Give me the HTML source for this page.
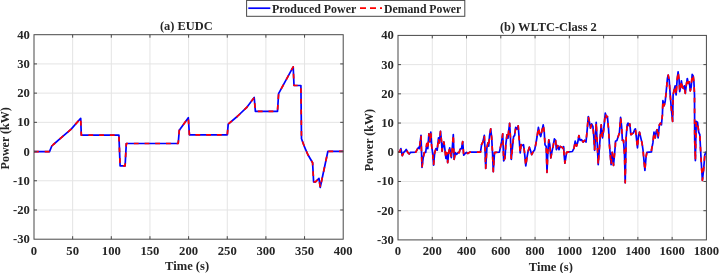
<!DOCTYPE html>
<html><head><meta charset="utf-8"><title>Produced vs Demand Power</title>
<style>html,body{margin:0;padding:0;background:#fff}svg{display:block}</style></head>
<body>
<svg width="719" height="273" viewBox="0 0 719 273">
<rect width="719" height="273" fill="#fff"/>
<g stroke="#e4e4e4" stroke-width="1">
<line x1="72.65" y1="34.70" x2="72.65" y2="239.20"/>
<line x1="111.30" y1="34.70" x2="111.30" y2="239.20"/>
<line x1="149.95" y1="34.70" x2="149.95" y2="239.20"/>
<line x1="188.60" y1="34.70" x2="188.60" y2="239.20"/>
<line x1="227.25" y1="34.70" x2="227.25" y2="239.20"/>
<line x1="265.90" y1="34.70" x2="265.90" y2="239.20"/>
<line x1="304.55" y1="34.70" x2="304.55" y2="239.20"/>
<line x1="34.00" y1="209.99" x2="343.20" y2="209.99"/>
<line x1="34.00" y1="180.77" x2="343.20" y2="180.77"/>
<line x1="34.00" y1="151.56" x2="343.20" y2="151.56"/>
<line x1="34.00" y1="122.34" x2="343.20" y2="122.34"/>
<line x1="34.00" y1="93.13" x2="343.20" y2="93.13"/>
<line x1="34.00" y1="63.91" x2="343.20" y2="63.91"/>
</g>
<polyline points="34.0,151.6 49.5,151.6 51.8,146.0 53.4,144.5 60.4,138.4 61.9,137.1 71.2,129.1 80.7,118.3 81.3,135.1 118.9,135.1 120.1,165.9 125.1,165.9 126.3,143.5 178.2,143.5 179.3,130.2 188.3,117.7 189.4,134.8 227.3,134.8 228.2,124.1 237.2,116.5 246.5,107.7 254.2,97.5 255.4,111.4 277.5,111.4 278.6,93.7 293.2,66.8 294.0,85.5 300.9,85.5 301.5,138.7 304.6,147.2 307.8,154.5 312.6,162.7 313.6,181.9 315.5,181.9 319.0,178.4 320.2,187.5 327.9,151.3 343.2,151.3" fill="none" stroke="#0000ff" stroke-width="1.7" stroke-linejoin="round"/>
<polyline points="34.0,151.6 49.5,151.6 51.8,146.0 53.4,144.5 60.4,138.4 61.9,137.1 71.2,129.1 80.7,118.3 81.3,135.1 118.9,135.1 120.1,165.9 125.1,165.9 126.3,143.5 178.2,143.5 179.3,130.2 188.3,117.7 189.4,134.8 227.3,134.8 228.2,124.1 237.2,116.5 246.5,107.7 254.2,97.5 255.4,111.4 277.5,111.4 278.6,93.7 293.2,66.8 294.0,85.5 300.9,85.5 301.5,138.7 304.6,147.2 307.8,154.5 312.6,162.7 313.6,181.9 315.5,181.9 319.0,178.4 320.2,187.5 327.9,151.3 343.2,151.3" fill="none" stroke="#ff0000" stroke-width="1.7" stroke-dasharray="4.8,5.9" stroke-linejoin="round"/>
<g stroke="#484848" stroke-width="1" fill="none">
<rect x="34.00" y="34.70" width="309.20" height="204.50"/>
<path d="M72.65 239.20v-3M72.65 34.70v3M111.30 239.20v-3M111.30 34.70v3M149.95 239.20v-3M149.95 34.70v3M188.60 239.20v-3M188.60 34.70v3M227.25 239.20v-3M227.25 34.70v3M265.90 239.20v-3M265.90 34.70v3M304.55 239.20v-3M304.55 34.70v3M34.00 209.99h3M343.20 209.99h-3M34.00 180.77h3M343.20 180.77h-3M34.00 151.56h3M343.20 151.56h-3M34.00 122.34h3M343.20 122.34h-3M34.00 93.13h3M343.20 93.13h-3M34.00 63.91h3M343.20 63.91h-3"/>
</g>
<g stroke="#e4e4e4" stroke-width="1">
<line x1="432.27" y1="35.40" x2="432.27" y2="239.90"/>
<line x1="466.53" y1="35.40" x2="466.53" y2="239.90"/>
<line x1="500.80" y1="35.40" x2="500.80" y2="239.90"/>
<line x1="535.07" y1="35.40" x2="535.07" y2="239.90"/>
<line x1="569.33" y1="35.40" x2="569.33" y2="239.90"/>
<line x1="603.60" y1="35.40" x2="603.60" y2="239.90"/>
<line x1="637.87" y1="35.40" x2="637.87" y2="239.90"/>
<line x1="672.13" y1="35.40" x2="672.13" y2="239.90"/>
<line x1="398.00" y1="210.69" x2="706.40" y2="210.69"/>
<line x1="398.00" y1="181.47" x2="706.40" y2="181.47"/>
<line x1="398.00" y1="152.26" x2="706.40" y2="152.26"/>
<line x1="398.00" y1="123.04" x2="706.40" y2="123.04"/>
<line x1="398.00" y1="93.83" x2="706.40" y2="93.83"/>
<line x1="398.00" y1="64.61" x2="706.40" y2="64.61"/>
</g>
<polyline points="398.0,152.1 399.6,152.1 400.9,148.6 402.3,155.7 403.7,152.4 405.1,151.1 406.2,149.4 407.9,152.7 409.2,154.0 410.5,152.4 415.8,152.1 417.4,149.1 418.6,147.4 419.4,148.6 421.0,135.4 422.0,167.5 423.2,157.7 424.3,152.7 425.7,152.4 426.8,143.7 427.8,148.6 428.9,133.8 429.8,142.0 430.8,132.1 431.7,146.1 432.6,152.7 433.6,165.1 434.7,152.7 436.0,148.6 437.2,150.2 438.5,137.9 439.3,142.8 440.5,131.3 441.5,141.2 442.1,151.1 443.3,143.7 443.9,142.0 444.9,149.4 445.9,158.5 446.7,152.7 447.7,162.6 448.7,152.7 449.7,147.8 450.0,149.4 451.3,157.7 452.3,147.8 453.3,134.6 454.1,159.3 455.4,152.7 456.6,154.4 457.9,152.7 459.1,152.7 460.2,149.1 461.5,148.6 462.7,141.5 463.7,155.2 465.2,153.5 466.5,152.4 467.8,153.5 469.8,152.1 480.5,152.1 481.6,144.5 482.9,142.0 484.3,135.4 485.1,151.1 485.7,168.4 486.9,147.8 487.9,142.8 488.7,146.1 489.5,136.2 490.7,128.8 491.7,137.9 492.5,152.7 493.3,171.7 494.5,152.7 495.8,152.4 499.4,152.1 500.7,146.1 501.7,141.2 502.7,133.8 503.7,160.9 505.0,157.9 505.8,144.7 507.0,134.8 508.0,138.1 508.6,131.5 509.6,123.3 510.4,136.5 511.3,159.5 512.4,148.0 513.6,136.5 514.6,135.7 515.7,127.4 516.9,129.1 518.2,125.8 519.0,136.5 520.2,152.9 521.1,144.7 522.3,145.5 523.5,144.7 524.4,151.3 525.8,165.8 526.9,157.9 528.1,151.3 529.4,147.2 530.5,150.5 531.7,154.6 533.0,152.1 534.7,149.7 536.0,143.1 537.1,136.5 538.4,127.4 539.6,134.0 540.7,136.5 542.1,129.9 543.2,124.9 544.2,131.5 545.0,144.7 546.2,146.4 547.0,172.4 547.8,152.9 548.8,139.8 549.8,144.7 550.8,157.9 552.0,151.3 553.1,146.4 554.4,138.9 555.6,140.6 556.4,149.7 557.7,145.5 559.0,149.7 560.2,146.4 561.8,147.2 563.5,148.8 563.6,146.6 563.8,148.2 563.9,152.4 564.9,163.1 566.6,152.4 569.1,151.9 572.4,151.5 574.0,148.2 575.2,141.2 576.5,146.2 577.8,142.1 578.9,135.5 580.1,140.4 581.4,139.6 583.1,142.1 584.7,140.4 586.0,142.1 587.2,129.7 588.3,116.5 589.3,121.5 590.5,128.1 591.6,123.9 592.9,126.4 593.8,136.3 594.6,150.3 595.4,137.9 596.2,122.3 597.2,142.9 598.2,164.7 600.0,139.6 601.2,124.8 602.5,137.9 603.7,129.7 605.3,113.2 606.5,117.4 607.4,116.5 608.6,129.7 609.4,144.5 611.1,164.7 612.2,152.4 613.5,165.5 615.2,146.6 615.3,146.2 615.5,141.2 616.9,140.4 618.3,136.3 619.4,133.0 620.6,117.4 621.6,126.4 622.4,140.4 623.5,140.4 624.5,154.4 625.2,182.8 626.2,136.3 627.2,124.8 628.0,123.1 629.0,125.6 629.8,123.9 630.9,134.7 632.1,133.8 633.4,133.0 634.6,129.7 635.4,128.9 636.4,137.9 637.5,147.8 638.4,136.3 639.5,132.2 640.8,137.9 642.0,142.9 643.0,150.0 643.6,156.5 644.9,170.5 646.1,156.5 646.9,152.4 651.5,151.9 651.5,150.0 652.9,142.9 654.0,132.2 655.2,137.9 656.2,131.4 657.1,129.7 658.1,137.9 659.4,124.8 660.6,123.1 661.4,124.8 662.4,114.9 662.9,100.7 664.1,105.7 665.2,101.5 666.2,91.7 667.4,78.5 668.2,75.2 669.2,80.1 670.2,94.9 671.1,105.7 671.6,111.4 672.6,121.4 673.1,94.9 674.1,90.0 675.1,85.9 676.1,94.9 677.1,80.1 678.1,71.9 679.1,80.1 679.7,91.7 680.7,86.7 681.4,80.9 682.3,86.7 683.3,88.4 684.3,85.9 685.3,93.3 686.3,85.1 687.3,78.5 688.3,83.4 689.3,81.8 690.3,90.8 691.2,86.7 692.2,74.4 693.2,76.0 693.9,81.8 694.5,94.9 694.7,140.0 695.4,160.6 696.2,121.4 697.5,122.2 698.7,132.1 699.8,134.6 701.1,159.8 702.4,180.4 703.6,169.7 704.8,154.8 706.1,151.9 706.4,151.9" fill="none" stroke="#0000ff" stroke-width="1.7" stroke-linejoin="round"/>
<polyline points="398.0,152.1 399.6,152.1 400.9,148.6 402.3,155.7 403.7,152.4 405.1,151.1 406.2,149.4 407.9,152.7 409.2,154.0 410.5,152.4 415.8,152.1 417.4,149.1 418.6,147.4 419.4,148.6 421.0,135.4 422.0,167.5 423.2,157.7 424.3,152.7 425.7,152.4 426.8,143.7 427.8,148.6 428.9,133.8 429.8,142.0 430.8,132.1 431.7,146.1 432.6,152.7 433.6,165.1 434.7,152.7 436.0,148.6 437.2,150.2 438.5,137.9 439.3,142.8 440.5,131.3 441.5,141.2 442.1,151.1 443.3,143.7 443.9,142.0 444.9,149.4 445.9,158.5 446.7,152.7 447.7,162.6 448.7,152.7 449.7,147.8 450.0,149.4 451.3,157.7 452.3,147.8 453.3,134.6 454.1,159.3 455.4,152.7 456.6,154.4 457.9,152.7 459.1,152.7 460.2,149.1 461.5,148.6 462.7,141.5 463.7,155.2 465.2,153.5 466.5,152.4 467.8,153.5 469.8,152.1 480.5,152.1 481.6,144.5 482.9,142.0 484.3,135.4 485.1,151.1 485.7,168.4 486.9,147.8 487.9,142.8 488.7,146.1 489.5,136.2 490.7,128.8 491.7,137.9 492.5,152.7 493.3,171.7 494.5,152.7 495.8,152.4 499.4,152.1 500.7,146.1 501.7,141.2 502.7,133.8 503.7,160.9 505.0,157.9 505.8,144.7 507.0,134.8 508.0,138.1 508.6,131.5 509.6,123.3 510.4,136.5 511.3,159.5 512.4,148.0 513.6,136.5 514.6,135.7 515.7,127.4 516.9,129.1 518.2,125.8 519.0,136.5 520.2,152.9 521.1,144.7 522.3,145.5 523.5,144.7 524.4,151.3 525.8,165.8 526.9,157.9 528.1,151.3 529.4,147.2 530.5,150.5 531.7,154.6 533.0,152.1 534.7,149.7 536.0,143.1 537.1,136.5 538.4,127.4 539.6,134.0 540.7,136.5 542.1,129.9 543.2,124.9 544.2,131.5 545.0,144.7 546.2,146.4 547.0,172.4 547.8,152.9 548.8,139.8 549.8,144.7 550.8,157.9 552.0,151.3 553.1,146.4 554.4,138.9 555.6,140.6 556.4,149.7 557.7,145.5 559.0,149.7 560.2,146.4 561.8,147.2 563.5,148.8 563.6,146.6 563.8,148.2 563.9,152.4 564.9,163.1 566.6,152.4 569.1,151.9 572.4,151.5 574.0,148.2 575.2,141.2 576.5,146.2 577.8,142.1 578.9,135.5 580.1,140.4 581.4,139.6 583.1,142.1 584.7,140.4 586.0,142.1 587.2,129.7 588.3,116.5 589.3,121.5 590.5,128.1 591.6,123.9 592.9,126.4 593.8,136.3 594.6,150.3 595.4,137.9 596.2,122.3 597.2,142.9 598.2,164.7 600.0,139.6 601.2,124.8 602.5,137.9 603.7,129.7 605.3,113.2 606.5,117.4 607.4,116.5 608.6,129.7 609.4,144.5 611.1,164.7 612.2,152.4 613.5,165.5 615.2,146.6 615.3,146.2 615.5,141.2 616.9,140.4 618.3,136.3 619.4,133.0 620.6,117.4 621.6,126.4 622.4,140.4 623.5,140.4 624.5,154.4 625.2,182.8 626.2,136.3 627.2,124.8 628.0,123.1 629.0,125.6 629.8,123.9 630.9,134.7 632.1,133.8 633.4,133.0 634.6,129.7 635.4,128.9 636.4,137.9 637.5,147.8 638.4,136.3 639.5,132.2 640.8,137.9 642.0,142.9 643.0,150.0 643.6,156.5 644.9,170.5 646.1,156.5 646.9,152.4 651.5,151.9 651.5,150.0 652.9,142.9 654.0,132.2 655.2,137.9 656.2,131.4 657.1,129.7 658.1,137.9 659.4,124.8 660.6,123.1 661.4,124.8 662.4,114.9 662.9,100.7 664.1,105.7 665.2,101.5 666.2,91.7 667.4,78.5 668.2,75.2 669.2,80.1 670.2,94.9 671.1,105.7 671.6,111.4 672.6,121.4 673.1,94.9 674.1,90.0 675.1,85.9 676.1,94.9 677.1,80.1 678.1,71.9 679.1,80.1 679.7,91.7 680.7,86.7 681.4,80.9 682.3,86.7 683.3,88.4 684.3,85.9 685.3,93.3 686.3,85.1 687.3,78.5 688.3,83.4 689.3,81.8 690.3,90.8 691.2,86.7 692.2,74.4 693.2,76.0 693.9,81.8 694.5,94.9 694.7,140.0 695.4,160.6 696.2,121.4 697.5,122.2 698.7,132.1 699.8,134.6 701.1,159.8 702.4,180.4 703.6,169.7 704.8,154.8 706.1,151.9 706.4,151.9" fill="none" stroke="#ff0000" stroke-width="1.7" stroke-dasharray="4.8,5.9" stroke-linejoin="round"/>
<g stroke="#484848" stroke-width="1" fill="none">
<rect x="398.00" y="35.40" width="308.40" height="204.50"/>
<path d="M432.27 239.90v-3M432.27 35.40v3M466.53 239.90v-3M466.53 35.40v3M500.80 239.90v-3M500.80 35.40v3M535.07 239.90v-3M535.07 35.40v3M569.33 239.90v-3M569.33 35.40v3M603.60 239.90v-3M603.60 35.40v3M637.87 239.90v-3M637.87 35.40v3M672.13 239.90v-3M672.13 35.40v3M398.00 210.69h3M706.40 210.69h-3M398.00 181.47h3M706.40 181.47h-3M398.00 152.26h3M706.40 152.26h-3M398.00 123.04h3M706.40 123.04h-3M398.00 93.83h3M706.40 93.83h-3M398.00 64.61h3M706.40 64.61h-3"/>
</g>
<g font-family="'Liberation Serif', serif" font-weight="bold" fill="#262626" font-size="11.5">
<text transform="translate(34.00,254.60) scale(1.100,1)" text-anchor="middle">0</text>
<text transform="translate(72.65,254.60) scale(1.100,1)" text-anchor="middle">50</text>
<text transform="translate(111.30,254.60) scale(1.100,1)" text-anchor="middle">100</text>
<text transform="translate(149.95,254.60) scale(1.100,1)" text-anchor="middle">150</text>
<text transform="translate(188.60,254.60) scale(1.100,1)" text-anchor="middle">200</text>
<text transform="translate(227.25,254.60) scale(1.100,1)" text-anchor="middle">250</text>
<text transform="translate(265.90,254.60) scale(1.100,1)" text-anchor="middle">300</text>
<text transform="translate(304.55,254.60) scale(1.100,1)" text-anchor="middle">350</text>
<text transform="translate(343.20,254.60) scale(1.100,1)" text-anchor="middle">400</text>
<text transform="translate(29.80,243.20) scale(1.100,1)" text-anchor="end">-30</text>
<text transform="translate(29.80,213.99) scale(1.100,1)" text-anchor="end">-20</text>
<text transform="translate(29.80,184.77) scale(1.100,1)" text-anchor="end">-10</text>
<text transform="translate(29.80,155.56) scale(1.100,1)" text-anchor="end">0</text>
<text transform="translate(29.80,126.34) scale(1.100,1)" text-anchor="end">10</text>
<text transform="translate(29.80,97.13) scale(1.100,1)" text-anchor="end">20</text>
<text transform="translate(29.80,67.91) scale(1.100,1)" text-anchor="end">30</text>
<text transform="translate(29.80,38.70) scale(1.100,1)" text-anchor="end">40</text>
<text transform="translate(398.00,255.30) scale(1.100,1)" text-anchor="middle">0</text>
<text transform="translate(432.27,255.30) scale(1.100,1)" text-anchor="middle">200</text>
<text transform="translate(466.53,255.30) scale(1.100,1)" text-anchor="middle">400</text>
<text transform="translate(500.80,255.30) scale(1.100,1)" text-anchor="middle">600</text>
<text transform="translate(535.07,255.30) scale(1.100,1)" text-anchor="middle">800</text>
<text transform="translate(569.33,255.30) scale(1.100,1)" text-anchor="middle">1000</text>
<text transform="translate(603.60,255.30) scale(1.100,1)" text-anchor="middle">1200</text>
<text transform="translate(637.87,255.30) scale(1.100,1)" text-anchor="middle">1400</text>
<text transform="translate(672.13,255.30) scale(1.100,1)" text-anchor="middle">1600</text>
<text transform="translate(706.40,255.30) scale(1.100,1)" text-anchor="middle">1800</text>
<text transform="translate(393.80,243.90) scale(1.100,1)" text-anchor="end">-30</text>
<text transform="translate(393.80,214.69) scale(1.100,1)" text-anchor="end">-20</text>
<text transform="translate(393.80,185.47) scale(1.100,1)" text-anchor="end">-10</text>
<text transform="translate(393.80,156.26) scale(1.100,1)" text-anchor="end">0</text>
<text transform="translate(393.80,127.04) scale(1.100,1)" text-anchor="end">10</text>
<text transform="translate(393.80,97.83) scale(1.100,1)" text-anchor="end">20</text>
<text transform="translate(393.80,68.61) scale(1.100,1)" text-anchor="end">30</text>
<text transform="translate(393.80,39.40) scale(1.100,1)" text-anchor="end">40</text>
<text transform="translate(187.10,269.70) scale(1.012,1)" text-anchor="middle" font-size="12.4">Time (s)</text>
<text transform="translate(550.80,270.50) scale(1.012,1)" text-anchor="middle" font-size="12.4">Time (s)</text>
<text transform="translate(9.10,138.30) rotate(-90) scale(0.972,1)" text-anchor="middle" font-size="12.4">Power (kW)</text>
<text transform="translate(372.90,140.10) rotate(-90) scale(0.972,1)" text-anchor="middle" font-size="12.4">Power (kW)</text>
<text transform="translate(186.30,30.00) scale(1.000,1)" text-anchor="middle" font-size="12.4">(a) EUDC</text>
<text transform="translate(548.40,31.00) scale(0.990,1)" text-anchor="middle" font-size="12.6">(b) WLTC-Class 2</text>
</g>
<rect x="246.6" y="0.4" width="218.2" height="15.9" fill="#fff" stroke="#484848" stroke-width="1"/>
<line x1="248.3" y1="8.2" x2="270.3" y2="8.2" stroke="#0000ff" stroke-width="1.7"/>
<line x1="360" y1="8.2" x2="382" y2="8.2" stroke="#ff0000" stroke-width="1.8" stroke-dasharray="6,4"/>
<g font-family="'Liberation Serif', serif" font-weight="bold" fill="#262626" font-size="11.6">
<text x="272" y="12.8" textLength="84.3" lengthAdjust="spacingAndGlyphs">Produced Power</text>
<text x="384" y="12.8" textLength="77.3" lengthAdjust="spacingAndGlyphs">Demand Power</text>
</g>
</svg>
</body></html>
